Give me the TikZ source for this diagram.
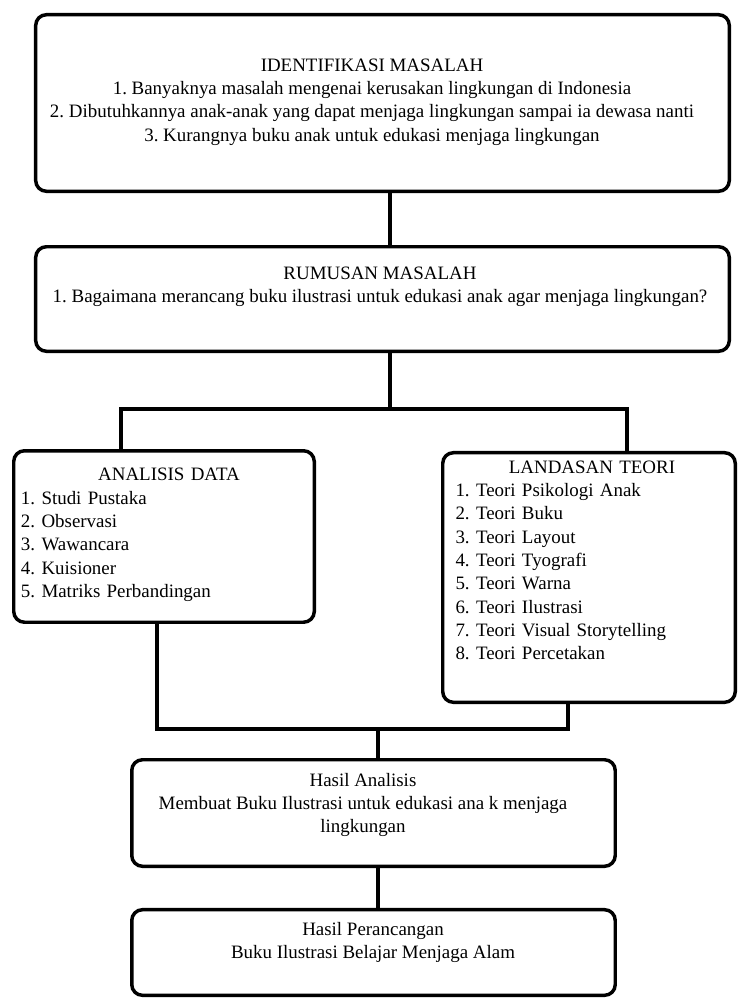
\documentclass[tikz,border=0pt]{standalone}
\usepackage{fontspec}
\setmainfont{Liberation Serif}
\frenchspacing
\usetikzlibrary{positioning,calc}
\tikzset{
    flowBox/.style={draw, line width=2.6pt, rounded corners=8pt, inner sep=0pt},
    boxText/.style={inner sep=0pt, align=center, font=\fontsize{14.2}{17.5}\selectfont},
    listText/.style={inner sep=0pt, align=left, font=\fontsize{14.2}{17.5}\selectfont},
    link/.style={line width=2.6pt, line cap=rect}
}

\begin{document}
\begin{tikzpicture}[x=0.75pt, y=-0.75pt]
			\useasboundingbox (0,0) rectangle (738,999);
			\node[flowBox, minimum width=520.2pt, minimum height=132.4pt] (idBox) at (382.5,103) {};
			\node[flowBox, minimum width=520.2pt, minimum height=78.4pt] (rmBox) at (382.5,299) {};
			\node[flowBox, minimum width=225.4pt, minimum height=128.6pt] (adBox) at (164,536.5) {};
			\node[flowBox, minimum width=219.4pt, minimum height=187.2pt] (ltBox) at (589,577.5) {};
			\node[flowBox, minimum width=362.6pt, minimum height=79.9pt] (haBox) at (373.5,813) {};
			\node[flowBox, minimum width=362.6pt, minimum height=64.2pt] (hpBox) at (373.5,952.5) {};
			\node[boxText] (idText) at (372,102) {IDENTIFIKASI MASALAH\\
				1. Banyaknya masalah mengenai kerusakan lingkungan di Indonesia\\
				2. Dibutuhkannya anak-anak yang dapat menjaga lingkungan sampai ia dewasa nanti\\
				3. Kurangnya buku anak untuk edukasi menjaga lingkungan};
			\node[boxText] (rmText) at (380,287) {RUMUSAN MASALAH\\
				1. Bagaimana merancang buku ilustrasi untuk edukasi anak agar menjaga lingkungan?};
			\node[listText, text width=222pt] (adText) at (169,535) {{\centering ANALISIS DATA\par}
				1. Studi Pustaka\\ 2. Observasi\\ 3. Wawancara\\ 4. Kuisioner\\ 5. Matriks Perbandingan};
			\node[listText, text width=204.75pt] (ltText) at (592,560.5) {{\centering LANDASAN TEORI\par}
				1. Teori Psikologi Anak\\ 2. Teori Buku\\ 3. Teori Layout\\ 4. Teori Tyografi\\
				5. Teori Warna\\ 6. Teori Ilustrasi\\ 7. Teori Visual Storytelling\\ 8. Teori Percetakan};
			\node[boxText] (haText) at (363,805) {Hasil Analisis\\
				Membuat Buku Ilustrasi untuk edukasi ana k menjaga\\ lingkungan};
			\node[boxText] (hpText) at (373,942.5) {Hasil Perancangan\\ Buku Ilustrasi Belajar Menjaga Alam};
			\draw[link] ($(idBox.south)+(7.5,0)$) -- ($(rmBox.north)+(7.5,0)$);
			\draw[link] ($(rmBox.south)+(7.5,0)$) -- ++(0,56) coordinate (split);
			\draw[link] ($(adBox.north)+(-43,0)$) |- (split) -| ($(ltBox.north)+(38,0)$);
			\draw[link] ($(adBox.south)+(-7,0)$) -- ++(0,105) -| ($(ltBox.south)+(-21,0)$);
			\draw[link] ($(haBox.north)+(4.5,0)$) -- ++(0,-29);
			\draw[link] ($(haBox.south)+(4.5,0)$) -- ($(hpBox.north)+(4.5,0)$);
\end{tikzpicture}
\end{document}
